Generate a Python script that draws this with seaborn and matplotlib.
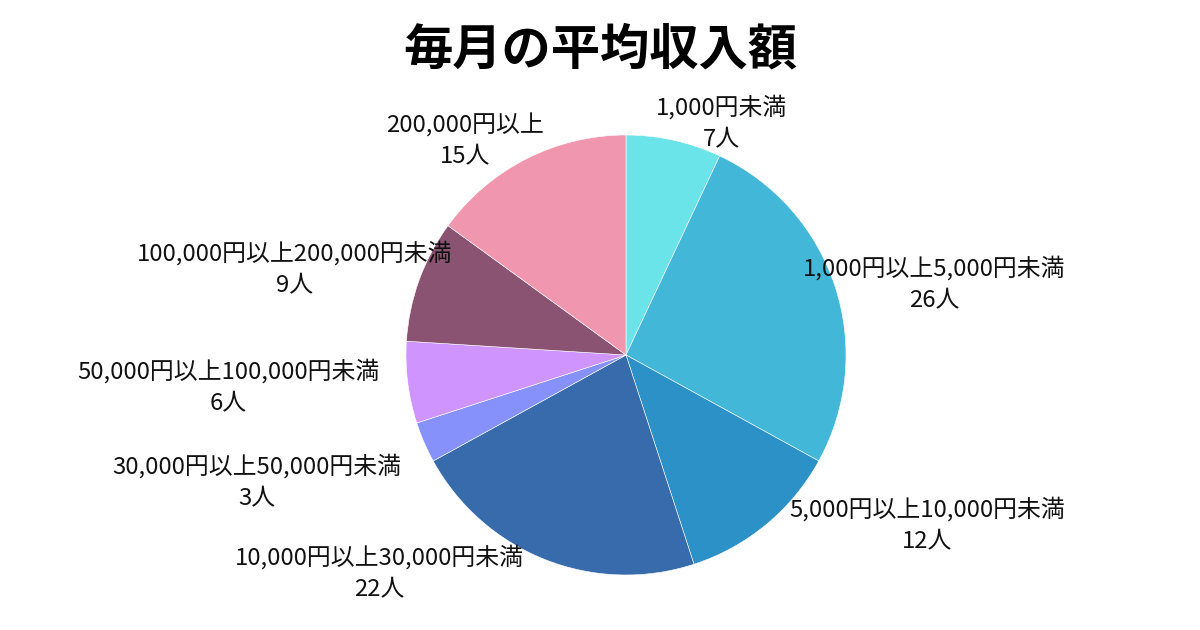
import matplotlib
matplotlib.use("Agg")
import matplotlib.pyplot as plt
import seaborn as sns

categories = ["1,000円未満", "1,000円以上5,000円未満", "5,000円以上10,000円未満",
              "10,000円以上30,000円未満", "30,000円以上50,000円未満",
              "50,000円以上100,000円未満", "100,000円以上200,000円未満", "200,000円以上"]
counts = [7, 26, 12, 22, 3, 6, 9, 15]
title = "毎月の平均収入額"

colors = ["#6BE4E9", "#42B7D7", "#2B91C6", "#376BAB", "#8791FC", "#D094FF", "#8A5371", "#F196AF"]
# label centres in pie-radius units (layout only)
label_pos = [(0.436, 1.055), (1.400, 0.323), (1.368, -0.773), (-1.123, -0.991),
             (-1.677, -0.577), (-1.809, -0.145), (-1.505, 0.391), (-0.732, 0.973)]

sns.set_theme(style="white")
plt.rcParams['font.family'] = ['Noto Sans CJK JP', 'DejaVu Sans']

W, H = 1200, 630
cx, cy, R = 626, 355, 220
fig = plt.figure(figsize=(W / 100, H / 100), dpi=100)
ax = fig.add_axes([0, 0, 1, 1])
palette = sns.color_palette(colors)
ax.pie(counts, colors=palette, startangle=90, counterclock=False, radius=1,
       wedgeprops=dict(linewidth=0.4, edgecolor="white"))
ax.set_xlim(-cx / R, (W - cx) / R)
ax.set_ylim(-(H - cy) / R, cy / R)
ax.set_aspect("equal", adjustable="box")
ax.axis("off")

for cat, n, (lx, ly) in zip(categories, counts, label_pos):
    ax.text(lx, ly, f"{cat}\n{n}人", ha="center", va="center", multialignment="center",
            fontsize=17.2, color="#111111", linespacing=1.45)

fig.text(0.5, 1 - 50 / H, title, ha="center", va="center", fontsize=35.5,
         fontweight="bold", color="#000000")

fig.savefig("out.png", dpi=100, facecolor="white")
